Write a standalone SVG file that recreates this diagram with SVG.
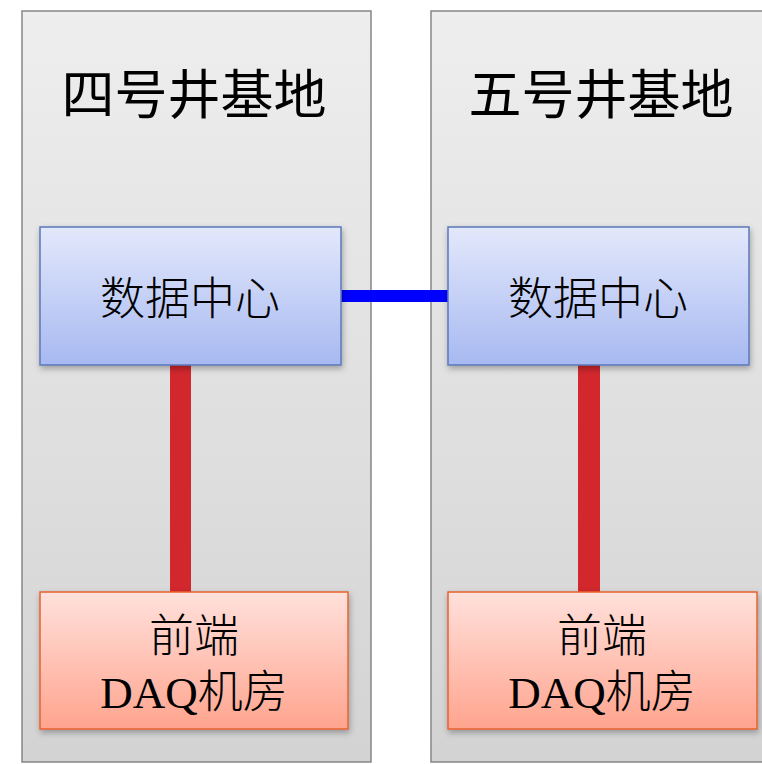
<svg xmlns="http://www.w3.org/2000/svg" width="762" height="764" viewBox="0 0 762 764">
<defs>
<linearGradient id="gBase" x1="0" y1="0" x2="0" y2="1"><stop offset="0" stop-color="#eeeeee"/><stop offset="1" stop-color="#d3d3d3"/></linearGradient>
<linearGradient id="gBlue" x1="0" y1="0" x2="0" y2="1"><stop offset="0" stop-color="#e3e8fb"/><stop offset="1" stop-color="#a7b9f1"/></linearGradient>
<linearGradient id="gRed" x1="0" y1="0" x2="0" y2="1"><stop offset="0" stop-color="#ffe1dc"/><stop offset="1" stop-color="#ffa48e"/></linearGradient>
<filter id="sh" x="-10%" y="-10%" width="125%" height="130%"><feDropShadow dx="1" dy="3" stdDeviation="3" flood-color="#000" flood-opacity="0.3"/></filter>
</defs>
<style>
.base{fill:url(#gBase);stroke:#868686;stroke-width:1.5}
.dc{fill:url(#gBlue);stroke:#5b78b9;stroke-width:1.5;filter:url(#sh)}
.daq{fill:url(#gRed);stroke:#e8622f;stroke-width:1.5;filter:url(#sh)}
.title{font-family:"Noto Sans CJK SC",sans-serif;font-size:53px;fill:#000;text-anchor:middle}
.lbl{font-family:"Liberation Serif","Noto Sans CJK SC",serif;font-size:45px;fill:#000;text-anchor:middle;font-weight:300}
</style>
<g id="base4"><rect class="base" x="22" y="11" width="349" height="751"/><text class="title" x="194" y="114">四号井基地</text></g>
<g id="base5"><rect class="base" x="431" y="11" width="345" height="751"/><text class="title" x="601" y="114">五号井基地</text></g>
<g id="connectors">
<rect x="170" y="364" width="21" height="228" fill="#d1272d"/>
<rect x="578" y="364" width="22" height="228" fill="#d1272d"/>
<rect x="341" y="290" width="107" height="12" fill="#0000ff"/>
</g>
<g id="dc4"><rect class="dc" x="40" y="227" width="301" height="138"/><text class="lbl" x="190" y="315">数据中心</text></g>
<g id="dc5"><rect class="dc" x="448" y="227" width="301" height="138"/><text class="lbl" x="598" y="315">数据中心</text></g>
<g id="daq4"><rect class="daq" x="40" y="592" width="308" height="137"/><text class="lbl" x="194" y="652">前端</text><text class="lbl" x="194" y="708">DAQ机房</text></g>
<g id="daq5"><rect class="daq" x="448" y="592" width="309" height="137"/><text class="lbl" x="602" y="652">前端</text><text class="lbl" x="602" y="708">DAQ机房</text></g>
</svg>
